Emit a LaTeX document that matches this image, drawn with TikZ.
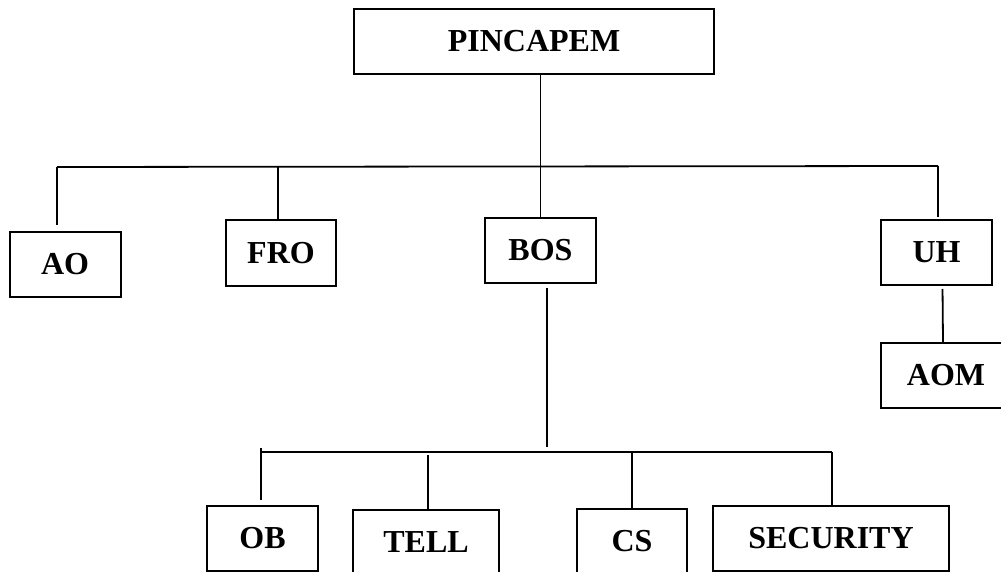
\documentclass[tikz,border=0pt]{standalone}
\usepackage{fontspec}
\setmainfont{Liberation Serif}

\begin{document}
\begin{tikzpicture}[x=1pt, y=-1pt,
    unit/.style={draw, line width=2pt, inner sep=0pt, minimum height=65pt,
        font=\fontsize{32}{38}\selectfont\bfseries},
    link/.style={line width=1.8pt}]
    \useasboundingbox (0,0) rectangle (1001,572);
    \clip (0,0) rectangle (1001,572);

    % Units
    \node[unit, minimum width=360pt] (pincapem) at (534,41.5) {PINCAPEM};
    \node[unit, minimum width=111pt] (ao) at (65,264) {AO};
    \node[unit, minimum width=110pt] (fro) at (281,253) {FRO};
    \node[unit, minimum width=111pt] (bos) at (540.5,250.5) {BOS};
    \node[unit, minimum width=111pt] (uh) at (936.5,252.5) {UH};
    \node[unit, minimum width=130pt] (aom) at (946,375.5) {AOM};
    \node[unit, minimum width=111pt] (ob) at (262.5,538.5) {OB};
    \node[unit, minimum width=146pt] (tell) at (426,542.5) {TELL};
    \node[unit, minimum width=110pt] (cs) at (632,541.5) {CS};
    \node[unit, minimum width=236pt] (security) at (831,538) {SECURITY};

    % Upper bus
    \coordinate (upL) at (57,167);
    \coordinate (upF) at (278,166);
    \coordinate (upR) at (938,166);
    \draw[link] (upL) -- (upR);
    \draw[link] (pincapem.south -| bos.north) -- (bos.north);
    \draw[link, shorten >=5pt] (upL) -- (upL |- ao.north);
    \draw[link] (upF) -- (upF |- fro.north);
    \draw[link, shorten >=2pt] (upR) -- (upR |- uh.north);
    \draw[link, shorten <=3pt] ([xshift=6pt]uh.south) -- ([xshift=-3pt]aom.north);

    % Lower bus
    \coordinate (lowL) at (261,452);
    \coordinate (lowB) at (547,452);
    \coordinate (lowT) at (428,455);
    \coordinate (lowC) at (632,452);
    \coordinate (lowR) at (832,452);
    \draw[link] (lowL) -- (lowR);
    \draw[link, shorten <=4pt, shorten >=5pt] ([xshift=6.5pt]bos.south) -- (lowB);
    \draw[link, shorten <=-4pt, shorten >=5pt] (lowL) -- (lowL |- ob.north);
    \draw[link] (lowT) -- (lowT |- tell.north);
    \draw[link] (lowC) -- (lowC |- cs.north);
    \draw[link] (lowR) -- (lowR |- security.north);
\end{tikzpicture}
\end{document}
